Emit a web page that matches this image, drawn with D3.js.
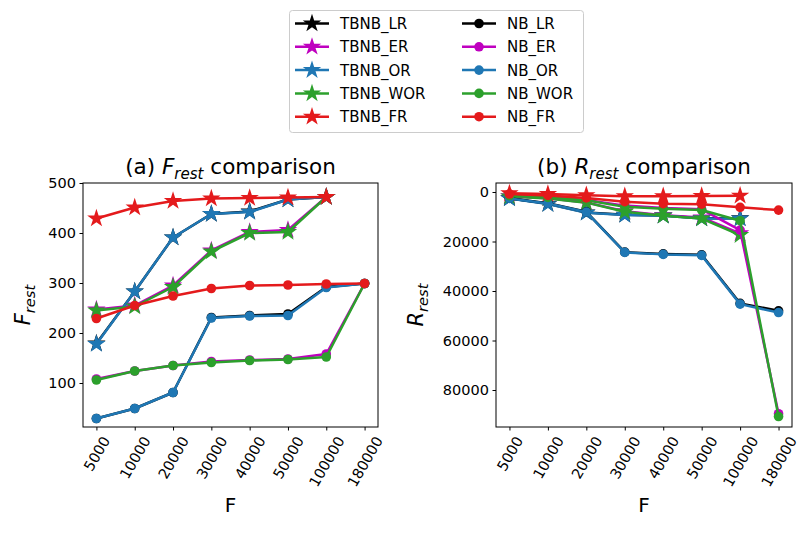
<!DOCTYPE html>
<html>
<head>
<meta charset="utf-8">
<script src="https://cdn.jsdelivr.net/npm/d3@7"></script>
<style>
body { margin: 0; background: #fff; }
text { font-family: "DejaVu Sans", sans-serif; fill: #000; }
</style>
</head>
<body>
<svg id="chart" width="799" height="536"></svg>
<script>
var categories = ['5000', '10000', '20000', '30000', '40000', '50000', '100000', '180000'];

// F_rest (left panel), TBNB series stop at 100000
var tbnbLR_F  = [179, 283, 391, 438, 443, 467, 472];
var tbnbER_F  = [247, 255, 295, 365, 402, 406, 472];
var tbnbOR_F  = [178, 283, 391, 438, 442, 467, 472];
var tbnbWOR_F = [245, 253, 292, 363, 400, 402, 472];
var tbnbFR_F  = [429, 451, 464, 469, 470, 471, 472];
var nbLR_F  = [29, 49, 81, 231, 235, 238, 292, 299];
var nbER_F  = [108, 124, 135, 143, 146, 148, 158, 299];
var nbOR_F  = [29, 49, 81, 230, 234, 235, 291, 299];
var nbWOR_F = [106, 124, 135, 141, 145, 147, 152, 299];
var nbFR_F  = [229, 255, 274, 289, 295, 296, 298, 299];

// R_rest (right panel)
var tbnbLR_R  = [2500, 4800, 8300, 9200, 9500, 10600, 10600];
var tbnbER_R  = [1700, 2500, 4200, 7800, 9400, 10300, 16700];
var tbnbOR_R  = [2600, 4900, 8400, 9300, 9600, 10700, 10700];
var tbnbWOR_R = [1800, 2600, 4300, 8000, 9600, 10700, 17400];
var tbnbFR_R  = [540, 800, 1300, 1700, 1700, 1600, 1500];
var nbLR_R  = [2500, 4500, 8000, 24300, 25000, 25400, 45000, 48000];
var nbER_R  = [1400, 2100, 3200, 5500, 6500, 7000, 15400, 89600];
var nbOR_R  = [2600, 4600, 8100, 24400, 25200, 25600, 45300, 48700];
var nbWOR_R = [1500, 2200, 3300, 6000, 6800, 7300, 11600, 90700];
var nbFR_R  = [800, 1400, 2400, 3900, 4700, 4900, 6200, 7300];

var seriesNames = ['TBNB_LR', 'TBNB_ER', 'TBNB_OR', 'TBNB_WOR', 'TBNB_FR',
                   'NB_LR', 'NB_ER', 'NB_OR', 'NB_WOR', 'NB_FR'];
var seriesColors = ['#000000', '#bf00bf', '#1f77b4', '#2ca02c', '#e41a1c',
                    '#000000', '#bf00bf', '#1f77b4', '#2ca02c', '#e41a1c'];
var seriesMarkers = ['star', 'star', 'star', 'star', 'star',
                     'circle', 'circle', 'circle', 'circle', 'circle'];

var fTicks = [100, 200, 300, 400, 500];
var rTicks = [0, 20000, 40000, 60000, 80000];

var tickFont = 14.5;
var svg = d3.select('#chart');
var starPath = d3.symbol().type(d3.symbolStar).size(105)();

function drawMarker(g, kind, color, cx, cy) {
    if (kind == 'star') {
        g.append('path')
            .attr('d', starPath)
            .attr('transform', 'translate(' + cx + ',' + cy + ')')
            .attr('fill', color);
    } else {
        g.append('circle')
            .attr('cx', cx).attr('cy', cy).attr('r', 4.8)
            .attr('fill', color);
    }
}

// title / axis label with italic symbol and subscript "rest"
function mathText(sel, before, sym, after, size) {
    sel.append('tspan').text(before);
    sel.append('tspan').attr('font-style', 'italic').text(sym);
    sel.append('tspan').attr('font-style', 'italic')
        .attr('font-size', size * 0.7).attr('dy', size * 0.22).text('rest');
    sel.append('tspan').attr('dy', -size * 0.22).text(after);
}

function drawPanel(p) {
    var g = svg.append('g');
    var x = d3.scaleLinear().domain([-0.35, 7.35]).range([p.left, p.right]);
    var y = d3.scaleLinear().domain(p.yDomain).range([p.top, p.bottom]);

    // y axis
    var ya = g.append('g')
        .attr('transform', 'translate(' + p.left + ',0)')
        .call(d3.axisLeft(y).tickValues(p.yTicks).tickFormat(d3.format('d'))
            .tickSize(3.5).tickPadding(3.5));
    ya.select('.domain').remove();
    ya.selectAll('text').attr('font-size', tickFont).attr('font-family', '"DejaVu Sans", sans-serif');

    // x axis, labels turned 60 degrees
    var xa = g.append('g')
        .attr('transform', 'translate(0,' + p.bottom + ')')
        .call(d3.axisBottom(x).tickValues(d3.range(categories.length))
            .tickFormat(function(i) { return categories[i]; })
            .tickSize(3.5));
    xa.select('.domain').remove();
    xa.selectAll('text')
        .attr('font-size', tickFont)
        .attr('font-family', '"DejaVu Sans", sans-serif')
        .attr('y', 0)
        .attr('dy', '0.35em')
        .attr('text-anchor', 'middle')
        .attr('transform', function() {
            var w = this.getComputedTextLength();
            var cy = 7 + (w * 0.866 + tickFont * 0.5) / 2;
            return 'translate(0,' + cy + ') rotate(-60)';
        });

    // lines + markers
    var line = d3.line()
        .x(function(d, i) { return x(i); })
        .y(function(d) { return y(d); });

    p.series.forEach(function(values, k) {
        var sg = g.append('g');
        sg.append('path')
            .attr('d', line(values))
            .attr('fill', 'none')
            .attr('stroke', seriesColors[k])
            .attr('stroke-width', 2.5)
            .attr('stroke-linejoin', 'round');
        values.forEach(function(v, i) {
            drawMarker(sg, seriesMarkers[k], seriesColors[k], x(i), y(v));
        });
    });

    // frame
    g.append('rect')
        .attr('x', p.left).attr('y', p.top)
        .attr('width', p.right - p.left).attr('height', p.bottom - p.top)
        .attr('fill', 'none').attr('stroke', '#000').attr('stroke-width', 1);

    var cx = (p.left + p.right) / 2;
    g.append('text')
        .attr('x', cx).attr('y', 174)
        .attr('text-anchor', 'middle')
        .attr('font-size', 21.5)
        .call(mathText, p.tag + ' ', p.sym, ' comparison', 21.5);

    g.append('text')
        .attr('transform', 'translate(' + p.ylabelX + ',' + ((p.top + p.bottom) / 2) + ') rotate(-90)')
        .attr('text-anchor', 'middle')
        .attr('font-size', 21)
        .call(mathText, '', p.sym, '', 21);

    g.append('text')
        .attr('x', cx).attr('y', 512)
        .attr('text-anchor', 'middle')
        .attr('font-size', 20)
        .text('F');
}

drawPanel({
    left: 83, right: 378, top: 183, bottom: 427,
    yDomain: [500, 12], yTicks: fTicks,
    series: [tbnbLR_F, tbnbER_F, tbnbOR_F, tbnbWOR_F, tbnbFR_F,
             nbLR_F, nbER_F, nbOR_F, nbWOR_F, nbFR_F],
    tag: '(a)', sym: 'F', ylabelX: 30
});

drawPanel({
    left: 496, right: 792, top: 183, bottom: 427,
    yDomain: [-3640, 94950], yTicks: rTicks,
    series: [tbnbLR_R, tbnbER_R, tbnbOR_R, tbnbWOR_R, tbnbFR_R,
             nbLR_R, nbER_R, nbOR_R, nbWOR_R, nbFR_R],
    tag: '(b)', sym: 'R', ylabelX: 423
});

// legend, two columns
var legend = svg.append('g');
legend.append('rect')
    .attr('x', 289.5).attr('y', 10.5).attr('width', 294).attr('height', 122)
    .attr('rx', 3)
    .attr('fill', '#fff').attr('stroke', '#cccccc');

seriesNames.forEach(function(name, k) {
    var col = Math.floor(k / 5), row = k % 5;
    var hx = col == 0 ? 295 : 462;
    var ly = 23.5 + row * 23.3;
    legend.append('line')
        .attr('x1', hx).attr('x2', hx + 34)
        .attr('y1', ly).attr('y2', ly)
        .attr('stroke', seriesColors[k]).attr('stroke-width', 2.5);
    drawMarker(legend, seriesMarkers[k], seriesColors[k], hx + 17, ly);
    legend.append('text')
        .attr('x', hx + 45).attr('y', ly).attr('dy', '0.36em')
        .attr('font-size', 15)
        .text(name);
});
</script>
</body>
</html>
